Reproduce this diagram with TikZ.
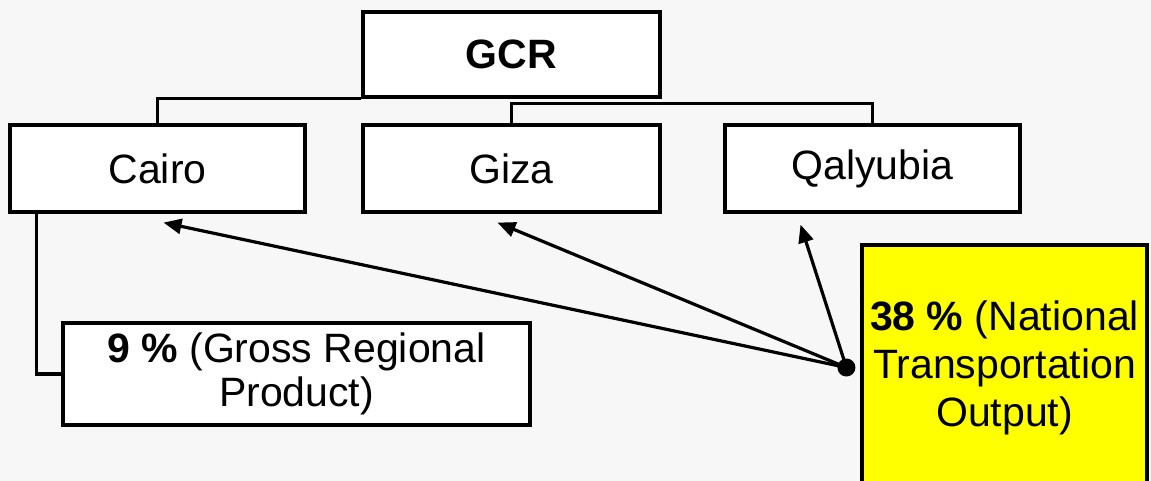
\documentclass[tikz,border=0pt]{standalone}
\usepackage{fontspec}
\setmainfont{Liberation Sans}
\usepackage{tikz}
\usetikzlibrary{arrows.meta,positioning}
\usepackage{xcolor}
\definecolor{bgcol}{HTML}{F7F7F7}
\definecolor{hiyellow}{HTML}{FFFF00}

\begin{document}
\begin{tikzpicture}[x=1pt,y=-1pt,line width=3.2pt,
        box/.style={draw,fill=white,inner sep=0pt,align=center,
                    font=\fontsize{41}{48}\selectfont},
        link/.style={-{Triangle[length=18pt,width=15pt]}}]
        \useasboundingbox (0,0) rectangle (1151,481);
        \fill[bgcol] (0,0) rectangle (1151,481);
        \node[box,minimum width=297pt,minimum height=85pt] (gcr) at (511.5,54.5) {\textbf{GCR}};
        \node[box,minimum width=295pt,minimum height=87pt] (cairo) at (157.5,168.5) {Cairo};
        \node[box,minimum width=297pt,minimum height=87pt] (giza) at (511.5,168.5) {Giza};
        \node[box,minimum width=295pt,minimum height=87pt] (qalyubia) at (872.5,168.5) {Qalyubia};
        \node[box,minimum width=467pt,minimum height=102pt,
              font=\fontsize{41}{44}\selectfont] (gdp) at (296.5,374)
              {\textbf{9 \%} (Gross Regional\\Product)};
        \node[box,fill=hiyellow,minimum width=285pt,minimum height=245pt] (nto) at (1004.5,367.5)
              {\textbf{38 \%} (National\\Transportation\\Output)};
        % tree lines
        \draw (gcr.south west) -| (cairo.north);
        \draw (giza.north) |- ([yshift=-5pt]gcr.south) -| (qalyubia.north);
        \draw ([xshift=28pt]cairo.south west) |- (gdp.west);
        % arrows from the yellow box
        \coordinate (hub) at ([xshift=-14pt]nto.west);
        \draw[link] (hub) -- ([shift={(6pt,-9pt)}]cairo.south);
        \draw[link] (hub) -- ([shift={(-14pt,-9pt)}]giza.south);
        \draw[link] (hub) -- ([shift={(-72pt,-11pt)}]qalyubia.south);
        \fill (hub) circle (9pt);
\end{tikzpicture}
\end{document}
